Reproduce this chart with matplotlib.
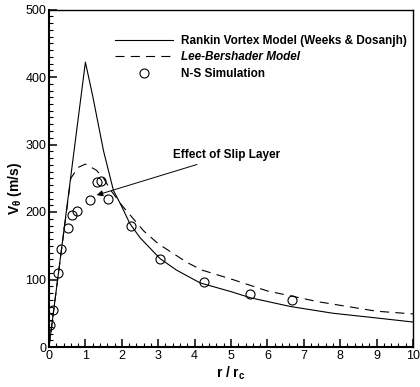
import matplotlib
matplotlib.use("Agg")
import matplotlib.pyplot as plt
from matplotlib.ticker import MultipleLocator

plt.rcParams["font.family"] = ["Liberation Sans", "DejaVu Sans"]
plt.rcParams["mathtext.fontset"] = "custom"
plt.rcParams["mathtext.rm"] = "Liberation Sans:bold"
plt.rcParams["mathtext.it"] = "Liberation Sans:bold"
plt.rcParams["mathtext.bf"] = "Liberation Sans:bold"
plt.rcParams["lines.scale_dashes"] = False

# Rankine vortex model
rank_r = [0, 1.0, 1.2, 1.5, 1.77, 2.0, 2.22, 2.5, 3.05, 3.5, 4.15, 5.0, 5.53, 6.63, 7.8, 9.0, 10.0]
rank_v = [0, 422, 372, 290, 232, 208, 183, 162, 131, 114, 95, 82, 73, 60, 50, 43, 37]

# Lee-Bershader model
lb_r = [0, 0.3, 0.6, 0.8, 1.0, 1.3, 1.5, 1.7, 2.0, 2.6, 3.0, 3.4, 3.8, 4.2, 5.1, 6.0, 7.4, 9.0, 10.0]
lb_v = [0, 126, 250, 266, 271, 262, 250, 232, 210, 172, 153, 139, 125, 114, 99, 83, 67, 53, 49]

# N-S simulation points
ns_r = [0.03, 0.12, 0.26, 0.32, 0.51, 0.64, 0.76, 1.13, 1.33, 1.43, 1.61, 2.24, 3.05, 4.26, 5.53, 6.67]
ns_v = [33, 55, 110, 145, 177, 196, 202, 218, 245, 246, 219, 179, 130, 97, 78, 70]

fig = plt.figure(figsize=(4.2, 3.87), dpi=100)
ax = fig.add_axes([49 / 420, 40 / 387, 364 / 420, 337.5 / 387])

ax.plot(rank_r, rank_v, color="black", lw=0.8, label="Rankin Vortex Model (Weeks & Dosanjh)")
ax.plot(lb_r, lb_v, color="black", lw=0.8, dashes=(6.5, 4.5), label="Lee-Bershader Model")
ax.plot(ns_r, ns_v, "o", mfc="none", mec="black", mew=0.8, ms=6.5, label="N-S Simulation")

ax.annotate("Effect of Slip Layer", xy=(1.31, 225), xytext=(3.42, 284),
            fontsize=8.5, fontweight="bold", va="center", ha="left",
            arrowprops=dict(arrowstyle="-|>", color="black", lw=0.7,
                            shrinkA=1, shrinkB=0, mutation_scale=9))

ax.set_xlim(0, 10)
ax.set_ylim(0, 500)
ax.xaxis.set_major_locator(MultipleLocator(1))
ax.xaxis.set_minor_locator(MultipleLocator(0.2))
ax.yaxis.set_major_locator(MultipleLocator(100))
ax.yaxis.set_minor_locator(MultipleLocator(10))
ax.tick_params(which="both", direction="in", top=False, right=False, labelsize=9, pad=2)
ax.tick_params(which="major", length=6, width=1.1)
ax.tick_params(which="minor", length=3, width=0.8)
for s in ["left", "bottom"]:
    ax.spines[s].set_linewidth(1.5)
for s in ["right", "top"]:
    ax.spines[s].set_linewidth(1.0)

ax.set_xlabel(r"r / r$_{\mathrm{c}}$", fontsize=10, fontweight="bold", labelpad=2)
ax.set_ylabel(r"V$_{\theta}$ (m/s)", fontsize=10, fontweight="bold")
ax.yaxis.set_label_coords(-0.07, 0.47)

leg = ax.legend(loc="upper left", bbox_to_anchor=(0.181, 0.925), frameon=False,
                fontsize=8.5, handlelength=4.9, handletextpad=0.7, labelspacing=0.38,
                borderpad=0, borderaxespad=0)
for t in leg.get_texts():
    t.set_fontweight("bold")
leg.get_texts()[1].set_style("italic")

fig.savefig("out.png", dpi=100)
